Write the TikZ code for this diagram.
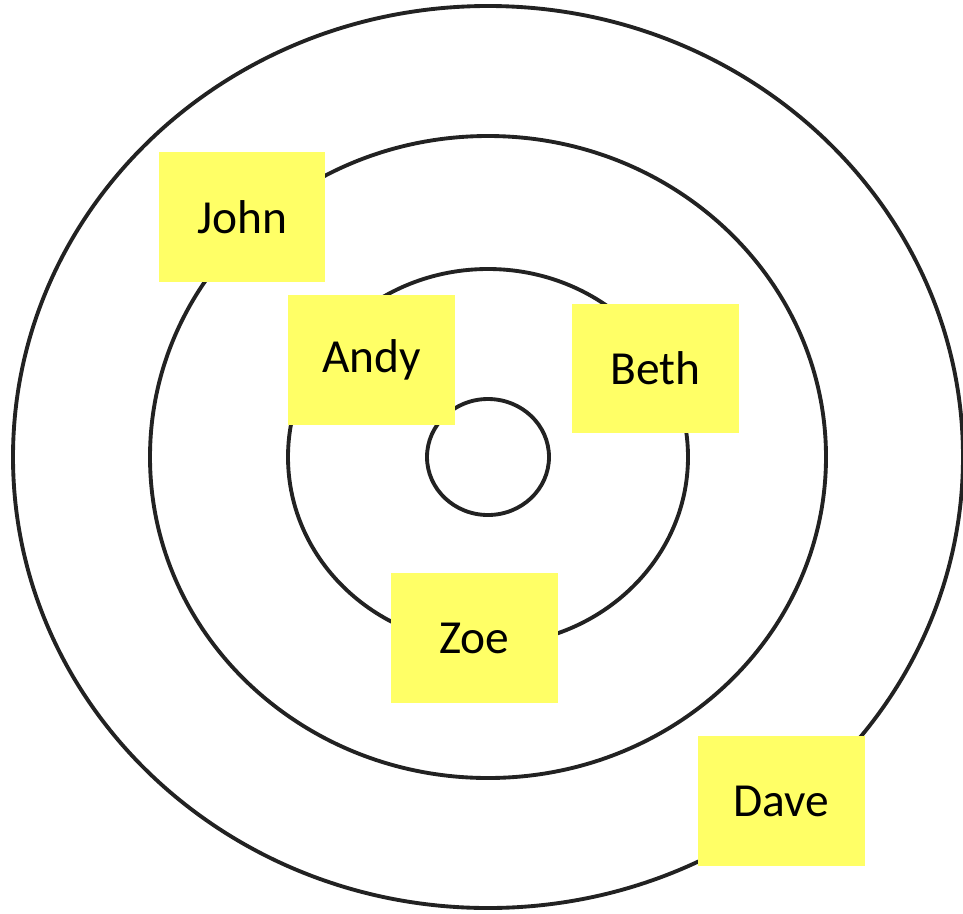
\documentclass[tikz,border=0pt]{standalone}
\usepackage{fontspec}
\setmainfont{Carlito}
\usepackage{tikz}
\usetikzlibrary{positioning}

\definecolor{stickyyellow}{HTML}{FFFF66}
\definecolor{ringgray}{HTML}{222222}

\begin{document}
\begin{tikzpicture}[x=0.02cm, y=-0.02cm,
    ring/.style={draw=ringgray, line width=2.2pt},
    sticky/.style={rectangle, fill=stickyyellow, minimum width=3.34cm, minimum height=2.6cm, inner sep=0pt, text centered, font=\fontsize{27}{32}\selectfont}]

    \useasboundingbox (0,0) rectangle (963,913);

    % target rings
    \coordinate (centre) at (488,457);
    \draw [ring] (centre) ellipse [x radius=475, y radius=451];
    \draw [ring] (centre) ellipse [x radius=338, y radius=321];
    \draw [ring] (centre) ellipse [x radius=200, y radius=188];
    \draw [ring] (centre) ellipse [x radius=61, y radius=58];

    % sticky notes
    \node [sticky] (john) at (242,217) {John};
    \node [sticky] (andy) at (371.5,360) {Andy};
    \node [sticky] (beth) at (655.5,368.5) {Beth};
    \node [sticky] (zoe) at (474.5,638) {Zoe};
    \node [sticky] (dave) at (781.5,801) {Dave};
\end{tikzpicture}
\end{document}
